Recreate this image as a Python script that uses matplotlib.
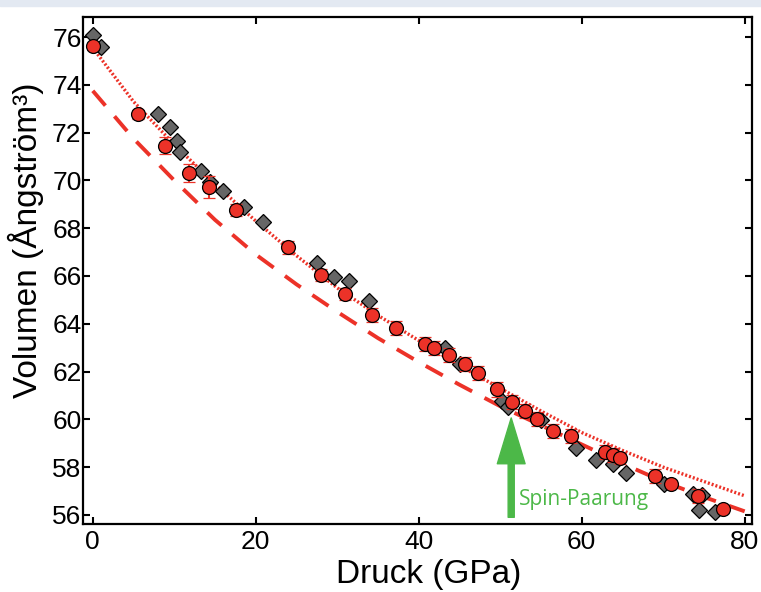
import matplotlib
matplotlib.use("Agg")
import matplotlib.pyplot as plt
from matplotlib.patches import Rectangle

# red circles (with error bars)
p_red = [0.0, 5.5, 8.9, 11.8, 14.3, 17.6, 24.0, 28.0, 30.9, 34.3, 37.2, 40.8, 41.9,
         43.7, 45.7, 47.3, 49.6, 51.5, 53.1, 54.5, 56.5, 58.7, 62.8, 63.9, 64.7,
         69.0, 70.9, 74.3, 77.4]
v_red = [75.62, 72.76, 71.45, 70.31, 69.72, 68.76, 67.21, 66.04, 65.25, 64.37, 63.82,
         63.15, 62.99, 62.69, 62.32, 61.94, 61.25, 60.73, 60.35, 60.02, 59.51, 59.31,
         58.64, 58.51, 58.38, 57.63, 57.30, 56.79, 56.25]
err_red = [0.15, 0.2, 0.35, 0.37, 0.45, 0.25, 0.27, 0.25, 0.25, 0.28, 0.28, 0.28, 0.28,
           0.28, 0.28, 0.28, 0.3, 0.28, 0.28, 0.3, 0.3, 0.3, 0.3, 0.3, 0.25,
           0.3, 0.15, 0.28, 0.15]

# grey diamonds
p_grey = [0.0, 1.0, 7.95, 9.5, 10.3, 10.7, 13.3, 14.4, 16.0, 18.5, 20.9, 27.5, 29.6,
          31.4, 33.9, 43.2, 45.1, 50.2, 50.9, 55.0, 59.3, 61.8, 63.8, 65.4, 70.1,
          73.6, 74.8, 74.4, 76.4]
v_grey = [76.08, 75.6, 72.77, 72.25, 71.66, 71.2, 70.41, 69.95, 69.57, 68.9, 68.25,
          66.53, 65.97, 65.79, 64.95, 62.98, 62.32, 60.75, 60.5, 59.97, 58.79, 58.28,
          58.15, 57.77, 57.3, 56.89, 56.85, 56.22, 56.14]

# fitted curves
p_fit = [0, 5, 10, 15, 20, 25, 30, 35, 40, 45, 50, 55, 60, 65, 70, 75, 80]
v_dotted = [75.55, 73.3, 71.5, 69.85, 68.3, 66.85, 65.5, 64.35, 63.3, 62.25, 61.3,
            60.35, 59.45, 58.7, 58.0, 57.4, 56.8]
v_dashed = [73.75, 71.75, 70.0, 68.35, 66.9, 65.65, 64.5, 63.4, 62.4, 61.45, 60.55,
            59.75, 58.95, 58.15, 57.4, 56.75, 56.15]

x_ticks = [0, 20, 40, 60, 80]
y_ticks = [56, 58, 60, 62, 64, 66, 68, 70, 72, 74, 76]

red = "#ec3228"
green = "#4cb848"

plt.rcParams["font.family"] = ["Liberation Sans", "DejaVu Sans"]

fig = plt.figure(figsize=(7.61, 5.92), dpi=100)
fig.patches.append(Rectangle((0, 1 - 6 / 592), 1, 6 / 592, transform=fig.transFigure,
                             color="#e3e9f2", zorder=0))
ax = fig.add_axes([83 / 761, 68 / 592, 669 / 761, 507 / 592])

ax.plot(p_fit, v_dotted, color=red, lw=2.4, ls=(0, (0.6, 0.6)), zorder=2)
ax.plot(p_fit, v_dashed, color=red, lw=2.8, ls=(0, (5, 3.6)), zorder=2)

ax.plot(p_grey, v_grey, ls="none", marker="D", ms=8, mfc="#666666", mec="black",
        mew=0.9, zorder=3)
ax.errorbar(p_red, v_red, yerr=err_red, fmt="o", ms=10, mfc=red, mec="black",
            mew=0.9, ecolor=red, elinewidth=1.5, capsize=4.5, capthick=1.5, zorder=4)

ax.annotate("", xy=(51.35, 60.06), xytext=(51.35, 55.9),
            arrowprops=dict(arrowstyle="simple,head_length=1.65,head_width=1.0,tail_width=0.22",
                            mutation_scale=20, color=green, shrinkA=0, shrinkB=0))
ax.text(52.3, 56.65, "Spin-Paarung", color=green, fontsize=15, family="Open Sans",
        va="center", ha="left")

ax.set_xlim(-1.2, 80.9)
ax.set_ylim(55.62, 76.84)
ax.set_xticks(x_ticks)
ax.set_yticks(y_ticks)
ax.tick_params(direction="in", length=5, width=1.5, labelsize=19, pad=1,
               top=True, right=True)
ax.tick_params(axis="x", pad=4)
for s in ax.spines.values():
    s.set_linewidth(1.6)

ax.set_xlabel("Druck (GPa)", fontsize=24)
ax.set_ylabel("Volumen (Ångström³)", fontsize=24)
ax.xaxis.set_label_coords(0.517, -0.069)
ax.yaxis.set_label_coords(-0.058, 0.56)

fig.savefig("out.png", dpi=100)
